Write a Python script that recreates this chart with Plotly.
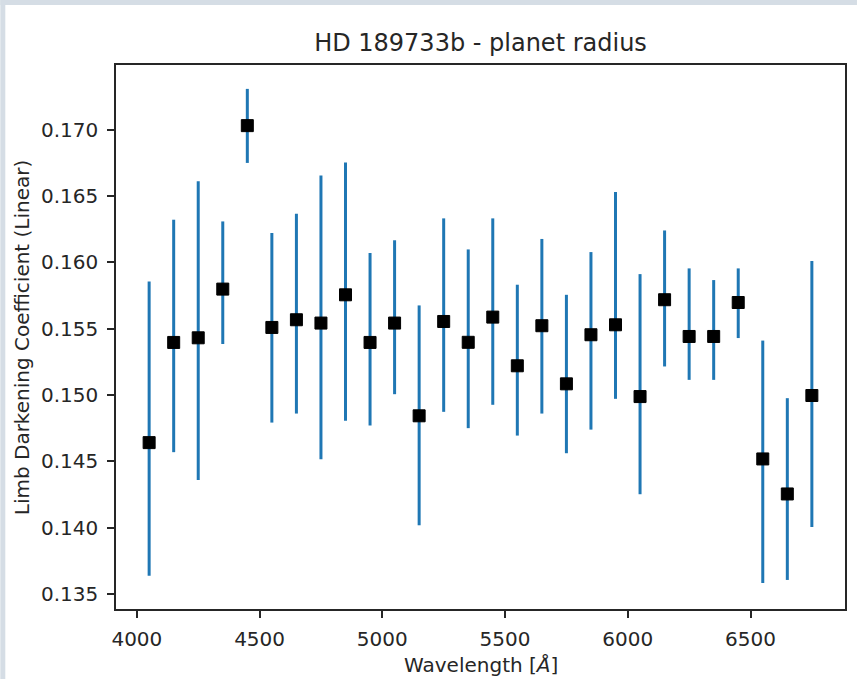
import plotly.graph_objects as go

# ---- data ----
wavelength = [4050, 4150, 4250, 4350, 4450, 4550, 4650, 4750, 4850, 4950,
              5050, 5150, 5250, 5350, 5450, 5550, 5650, 5750, 5850, 5950,
              6050, 6150, 6250, 6350, 6450, 6550, 6650, 6750]
ld_coeff = [0.14641, 0.15396, 0.15431, 0.15798, 0.17030, 0.15509, 0.15567,
            0.15542, 0.15755, 0.15396, 0.15542, 0.14843, 0.15554, 0.15397,
            0.15587, 0.15220, 0.15522, 0.15084, 0.15454, 0.15529, 0.14988,
            0.15718, 0.15441, 0.15441, 0.15697, 0.14518, 0.14254, 0.14996]
err_plus = [0.01215, 0.00925, 0.01179, 0.00510, 0.00277, 0.00712, 0.00799,
            0.01113, 0.00998, 0.00674, 0.00624, 0.00832, 0.00777, 0.00700,
            0.00744, 0.00611, 0.00654, 0.00671, 0.00623, 0.01001, 0.00923,
            0.00522, 0.00513, 0.00425, 0.00257, 0.00892, 0.00722, 0.01014]
err_minus = [0.01003, 0.00827, 0.01071, 0.00414, 0.00281, 0.00717, 0.00707,
             0.01026, 0.00950, 0.00626, 0.00536, 0.00825, 0.00681, 0.00647,
             0.00661, 0.00526, 0.00662, 0.00523, 0.00715, 0.00558, 0.00736,
             0.00503, 0.00327, 0.00327, 0.00268, 0.00935, 0.00648, 0.00991]
x_ticks = [4000, 4500, 5000, 5500, 6000, 6500]
y_ticks = [0.135, 0.140, 0.145, 0.150, 0.155, 0.160, 0.165, 0.170]

title_text = "HD 189733b - planet radius"
x_label = "Wavelength [<i>Å</i>]"
y_label = "Limb Darkening Coefficient (Linear)"

# ---- layout geometry ----
W, H = 859, 679
ML, MR, MT, MB = 116, 12, 65, 70
PW = W - ML - MR
PH = H - MT - MB


def pxx(px):
    return (px - ML) / PW


def pxy(py):
    return (H - MB - py) / PH


FONT = "DejaVu Sans"
border = "#d5dde5"
spine = "#262626"

fig = go.Figure()
fig.add_trace(go.Scatter(
    x=wavelength, y=ld_coeff, mode="markers",
    marker=dict(symbol="square", size=12, color="black",
                line=dict(color="black", width=1)),
    error_y=dict(type="data", symmetric=False, array=err_plus,
                 arrayminus=err_minus, color="#1f77b4", thickness=3, width=0),
    showlegend=False,
))

fig.update_layout(
    width=W, height=H, autosize=False,
    margin=dict(l=ML, r=MR, t=MT, b=MB, pad=0),
    paper_bgcolor="white", plot_bgcolor="white",
    font=dict(family=FONT, size=20, color="#262626"),
    title=dict(text=title_text, x=pxx(481.5), xref="paper", xanchor="center",
               y=1 - 43 / H, yref="container", yanchor="middle",
               font=dict(family=FONT, size=24, color="#262626")),
    xaxis=dict(range=[3915, 6885], tickmode="array", tickvals=x_ticks,
               ticktext=[str(v) for v in x_ticks],
               showgrid=False, zeroline=False, showline=True, mirror=True,
               linecolor=spine, linewidth=1.5, ticks="outside", ticklen=7,
               tickwidth=1.5, tickcolor=spine, ticklabelstandoff=4,
               tickfont=dict(family=FONT, size=20, color="#262626")),
    yaxis=dict(range=[0.13387, 0.17487], tickmode="array", tickvals=y_ticks,
               ticktext=["%.3f" % v for v in y_ticks],
               showgrid=False, zeroline=False, showline=True, mirror=True,
               linecolor=spine, linewidth=1.5, ticks="outside", ticklen=7,
               tickwidth=1.5, tickcolor=spine, ticklabelstandoff=5,
               tickfont=dict(family=FONT, size=20, color="#262626")),
    shapes=[
        dict(type="rect", xref="paper", yref="paper", x0=pxx(0), x1=pxx(5),
             y0=pxy(H), y1=pxy(0), fillcolor=border, line=dict(width=0),
             layer="below"),
        dict(type="rect", xref="paper", yref="paper", x0=pxx(0), x1=pxx(W),
             y0=pxy(5), y1=pxy(0), fillcolor=border, line=dict(width=0),
             layer="below"),
    ],
    annotations=[
        dict(text=x_label, xref="paper", yref="paper", x=pxx(481.5),
             y=pxy(665), xanchor="center", yanchor="middle", showarrow=False,
             font=dict(family=FONT, size=20, color="#262626")),
        dict(text=y_label, xref="paper", yref="paper", x=pxx(22),
             y=pxy(337), xanchor="center", yanchor="middle", showarrow=False,
             textangle=-90,
             font=dict(family=FONT, size=20, color="#262626")),
    ],
)

fig.write_html("out.html")
